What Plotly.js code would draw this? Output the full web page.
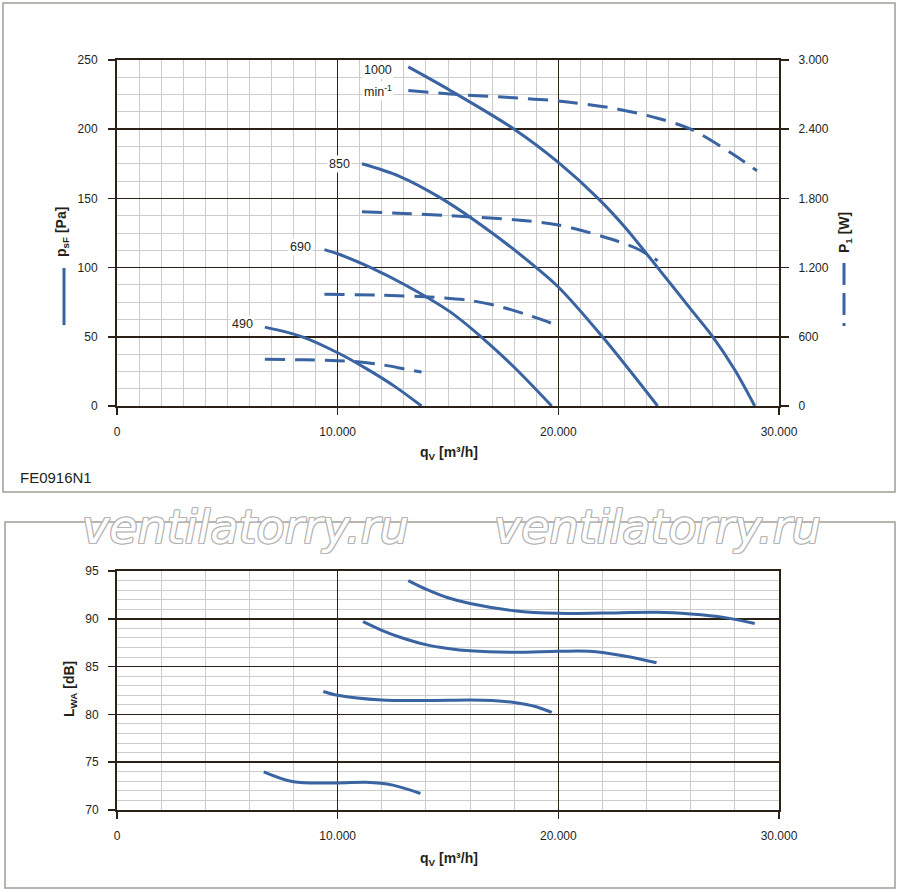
<!DOCTYPE html>
<html>
<head>
<meta charset="utf-8">
<script src="https://cdn.plot.ly/plotly-3.0.1.min.js"></script>
<style>
  html, body { margin: 0; padding: 0; background: #fff; }
</style>
</head>
<body>
<div id="chartBox"></div>
<script>
// fan curves FE0916N1: static pressure, power input, sound power vs. air flow
const speeds = ['1000', '850', '690', '490'];

// static pressure psF [Pa]
const qPres1000 = [13200, 15100, 18000, 20000, 21800, 23000, 24500, 26000, 27000, 28000, 28900];
const pres1000  = [245, 228, 200, 176, 150, 129.5, 100, 70, 50, 26, 0];
const qPres850  = [11100, 12800, 14700, 17000, 19000, 20000, 22000, 24500];
const pres850   = [175, 166, 150, 125, 100, 86, 50, 0];
const qPres690  = [9400, 10000, 11500, 13000, 15100, 16500, 18000, 19700];
const pres690   = [113, 110, 100, 88, 68, 50, 28, 0];
const qPres490  = [6700, 8400, 10000, 11300, 12600, 13800];
const pres490   = [57, 50, 38.5, 27, 14, 0];

// power input P1 [W]
const qPow1000 = [13200, 15100, 18000, 20000, 22600, 24500, 26000, 27900, 29000];
const pow1000  = [2735, 2705, 2672, 2645, 2578, 2495, 2400, 2185, 2040];
const qPow850  = [11100, 13000, 15100, 18000, 20000, 22000, 23500, 24500];
const pow850   = [1685, 1670, 1650, 1615, 1570, 1470, 1370, 1260];
const qPow690  = [9400, 12000, 14600, 16000, 17400, 18600, 19700];
const pow690   = [968, 960, 940, 915, 860, 790, 717];
const qPow490  = [6700, 8500, 10000, 11000, 12000, 13200, 13800];
const pow490   = [405, 400, 393, 382, 358, 315, 295];

// sound power LWA [dB]
const qNoise1000 = [13200, 14000, 15000, 16000, 18000, 20000, 22000, 24500, 26000, 27500, 28900];
const noise1000  = [94.0, 93.1, 92.2, 91.6, 90.85, 90.57, 90.6, 90.68, 90.5, 90.15, 89.5];
const qNoise850  = [11150, 12000, 12800, 14000, 15000, 16000, 18000, 20000, 21400, 23000, 24450];
const noise850   = [89.7, 88.8, 88.1, 87.3, 86.9, 86.65, 86.5, 86.6, 86.6, 86.1, 85.4];
const qNoise690  = [9350, 10000, 12000, 14000, 16000, 17000, 18000, 19000, 19700];
const noise690   = [82.4, 82.0, 81.5, 81.45, 81.5, 81.45, 81.25, 80.8, 80.2];
const qNoise490  = [6650, 8000, 10000, 11300, 12500, 13750];
const noise490   = [74.0, 72.95, 72.83, 72.9, 72.6, 71.73];

const flowTicks = [0, 10000, 20000, 30000];

const FONT = '"Liberation Sans", Arial, Helvetica, sans-serif';
const TEXT = '#231f1a';
const DARK = '#2b2116';
const MINOR = '#cccccc';
const BLUE = '#3a63a2';
const W = 900, H = 892;

// pixel -> paper helpers
const px = x => x / W;
const py = y => 1 - y / H;

const presSet = [[qPres1000, pres1000], [qPres850, pres850], [qPres690, pres690], [qPres490, pres490]];
const powSet = [[qPow1000, pow1000], [qPow850, pow850], [qPow690, pow690], [qPow490, pow490]];
const noiseSet = [[qNoise1000, noise1000], [qNoise850, noise850], [qNoise690, noise690], [qNoise490, noise490]];

const line = { color: BLUE, width: 3, shape: 'spline', smoothing: 0.9 };
const data = [];
presSet.forEach(([q, v], i) => data.push({
    x: q, y: v, xaxis: 'x', yaxis: 'y', type: 'scatter', mode: 'lines',
    name: speeds[i], line: line, hoverinfo: 'skip'
}));
powSet.forEach(([q, v], i) => data.push({
    x: q, y: v, xaxis: 'x', yaxis: 'y2', type: 'scatter', mode: 'lines',
    name: speeds[i], line: Object.assign({}, line, { dash: '20px,10px' }), hoverinfo: 'skip'
}));
noiseSet.forEach(([q, v], i) => data.push({
    x: q, y: v, xaxis: 'x2', yaxis: 'y3', type: 'scatter', mode: 'lines',
    name: speeds[i], line: line, hoverinfo: 'skip'
}));

function axisBase(extra) {
    return Object.assign({
        showline: true, linecolor: DARK, linewidth: 2, mirror: true,
        ticks: 'outside', ticklen: 7, tickwidth: 1.5, tickcolor: DARK,
        showgrid: true, gridcolor: DARK, gridwidth: 1.5, zeroline: false,
        tickformat: ',d', tickfont: { family: FONT, size: 12, color: TEXT },
        fixedrange: true
    }, extra);
}

const xDomain = [px(117), px(779)];

// speed labels next to the first point of every curve
const labelShift = [[-14, -3], [-10, 0], [-11, 3], [-10, 3]];
const annotations = presSet.map(([q, v], i) => ({
    x: q[0], y: v[0], xref: 'x', yref: 'y', text: speeds[i], showarrow: false,
    xanchor: 'right', yanchor: 'middle', xshift: labelShift[i][0], yshift: labelShift[i][1],
    bgcolor: '#ffffff', borderpad: 1, font: { family: FONT, size: 12.5, color: TEXT }
}));
annotations.push({
    x: qPow1000[0], y: pow1000[0], xref: 'x', yref: 'y2', text: 'min<sup>-1</sup>', showarrow: false,
    xanchor: 'right', yanchor: 'middle', xshift: -14, yshift: 0,
    bgcolor: '#ffffff', borderpad: 1, font: { family: FONT, size: 12.5, color: TEXT }
});

const titleFont = { family: FONT, size: 14, color: TEXT, weight: 'bold' };
function paperText(text, x, y, extra) {
    return Object.assign({
        text: text, x: px(x), y: py(y), xref: 'paper', yref: 'paper', showarrow: false,
        xanchor: 'center', yanchor: 'middle', font: titleFont
    }, extra);
}
annotations.push(
    paperText('p<sub>sF</sub> [Pa]', 62, 232, { textangle: -90 }),
    paperText('P<sub>1</sub> [W]', 845, 233, { textangle: -90 }),
    paperText('q<sub>V</sub> [m³/h]', 449, 453),
    paperText('q<sub>V</sub> [m³/h]', 449, 859),
    paperText('L<sub>WA</sub> [dB]', 70, 689, { textangle: -90 }),
    paperText('FE0916N1', 18, 477, { xanchor: 'left', font: { family: FONT, size: 15, color: TEXT } })
);
const edge = '#b4b4b4';
const markFont = {
    family: '"DejaVu Sans", sans-serif', size: 46, color: '#ffffff', style: 'italic',
    shadow: `1px 0 0 ${edge}, -1px 0 0 ${edge}, 0 1px 0 ${edge}, 0 -1px 0 ${edge}, ` +
            `1px 1px 0 ${edge}, -1px -1px 0 ${edge}, 1px -1px 0 ${edge}, -1px 1px 0 ${edge}`
};
[246, 657].forEach(cx => annotations.push(
    paperText('ventilatorry.ru', cx, 527, { font: markFont })
));

const shapes = [
    { type: 'rect', xref: 'paper', yref: 'paper', x0: px(3), x1: px(895), y0: py(3), y1: py(492),
      line: { color: '#a39d94', width: 1.5 }, layer: 'below' },
    { type: 'rect', xref: 'paper', yref: 'paper', x0: px(5), x1: px(895), y0: py(522), y1: py(888),
      line: { color: '#a39d94', width: 1.5 }, layer: 'below' },
    // legend glyphs under the axis titles
    { type: 'line', xref: 'paper', yref: 'paper', x0: px(64), x1: px(64), y0: py(268), y1: py(325),
      line: { color: BLUE, width: 3 } },
    { type: 'line', xref: 'paper', yref: 'paper', x0: px(844), x1: px(844), y0: py(263), y1: py(326),
      line: { color: BLUE, width: 3, dash: '22px,8px' } }
];

const layout = {
    width: W, height: H,
    margin: { l: 0, r: 0, t: 0, b: 0 },
    paper_bgcolor: '#ffffff', plot_bgcolor: '#ffffff',
    separators: ',.',
    showlegend: false,
    font: { family: FONT, size: 12, color: TEXT },
    xaxis: axisBase({
        domain: xDomain, anchor: 'y', range: [0, 30000], tickvals: flowTicks,
        ticklabelstandoff: 7,
        minor: { dtick: 1000, showgrid: true, gridcolor: MINOR, gridwidth: 1, ticks: '' }
    }),
    yaxis: axisBase({
        domain: [py(406), py(60)], anchor: 'x', range: [0, 250], dtick: 50,
        ticklabelstandoff: 8,
        minor: { dtick: 12.5, showgrid: true, gridcolor: MINOR, gridwidth: 1, ticks: '' }
    }),
    yaxis2: axisBase({
        overlaying: 'y', anchor: 'x', side: 'right', range: [0, 3000], dtick: 600,
        showgrid: false, mirror: false, ticklen: 8, ticklabelstandoff: 7
    }),
    xaxis2: axisBase({
        domain: xDomain, anchor: 'y3', range: [0, 30000], tickvals: flowTicks,
        ticklabelstandoff: 7,
        minor: { dtick: 2000, showgrid: true, gridcolor: MINOR, gridwidth: 1, ticks: '' }
    }),
    yaxis3: axisBase({
        domain: [py(810), py(571)], anchor: 'x2', range: [70, 95], dtick: 5,
        ticklabelstandoff: 7,
        minor: { dtick: 1, showgrid: true, gridcolor: MINOR, gridwidth: 1, ticks: '' }
    }),
    annotations: annotations,
    shapes: shapes
};

Plotly.newPlot('chartBox', data, layout, { staticPlot: true, displayModeBar: false });
</script>
</body>
</html>
